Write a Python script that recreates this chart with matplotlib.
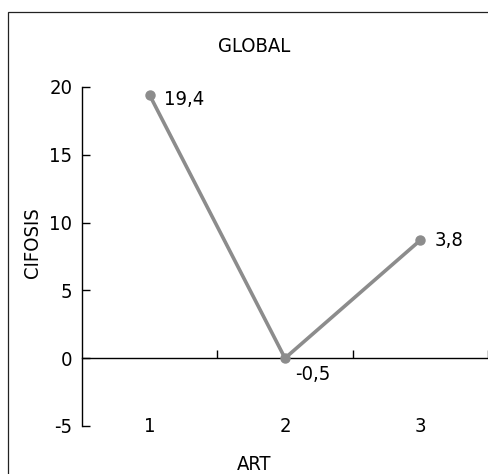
import matplotlib
matplotlib.use("Agg")
import matplotlib.pyplot as plt
from matplotlib.patches import Rectangle
from matplotlib.ticker import FixedLocator

# data
categories = ["1", "2", "3"]
positions = [1, 2, 3]
cifosis = [19.4, 0.0, 8.7]
value_labels = ["19,4", "-0,5", "3,8"]
y_ticks = [-5, 0, 5, 10, 15, 20]

line_color = "#8c8c8c"
font_size = 14.5
plt.rcParams["font.family"] = ["DejaVu Sans"]
plt.rcParams["font.stretch"] = "condensed"

fig = plt.figure(figsize=(4.88, 4.74), dpi=100)
ax = fig.add_axes([0.168, 0.1013, 0.832, 0.7152])

ax.plot(positions, cifosis, color=line_color, linewidth=2.6, marker="o",
        markersize=6.5, solid_capstyle="round", zorder=3, clip_on=False)

label_offsets = [(10, -3), (7, -12), (10, 0)]
for xv, yv, txt, off in zip(positions, cifosis, value_labels, label_offsets):
    ax.annotate(txt, (xv, yv), xytext=off, textcoords="offset points",
                fontsize=font_size, va="center", ha="left")

ax.set_xlim(0.5, 3.5)
ax.set_ylim(-5, 20)

# axis look
ax.spines["top"].set_visible(False)
ax.spines["right"].set_visible(False)
ax.spines["bottom"].set_position(("data", 0))
ax.spines["bottom"].set_linewidth(1.0)
ax.spines["left"].set_linewidth(1.0)

ax.set_yticks(y_ticks)
ax.set_yticklabels([str(t) for t in y_ticks])
ax.tick_params(axis="y", direction="in", length=6, width=1, pad=7, labelsize=font_size)

ax.set_xticks(positions)
ax.set_xticklabels(categories)
ax.xaxis.set_minor_locator(FixedLocator([1.5, 2.5, 3.5]))
ax.tick_params(axis="x", which="major", length=0, pad=42, labelsize=font_size)
ax.tick_params(axis="x", which="minor", direction="in", length=6, width=1)

ax.set_ylabel("CIFOSIS", fontsize=font_size, va="center")
ax.yaxis.set_label_coords(-0.123, 0.54)

fig.text(254 / 488, 1 - 46 / 474, "GLOBAL", ha="center", va="center", fontsize=font_size)
fig.text(254 / 488, 1 - 465 / 474, "ART", ha="center", va="center", fontsize=font_size)

# outer frame, cut off at the right and bottom like the source
fig.patches.append(Rectangle((7.5 / 488, -0.1), 2, 0.1 + (474 - 11.7) / 474,
                             transform=fig.transFigure, fill=False,
                             edgecolor="#222222", linewidth=0.9))

fig.savefig("out.png", dpi=100)
